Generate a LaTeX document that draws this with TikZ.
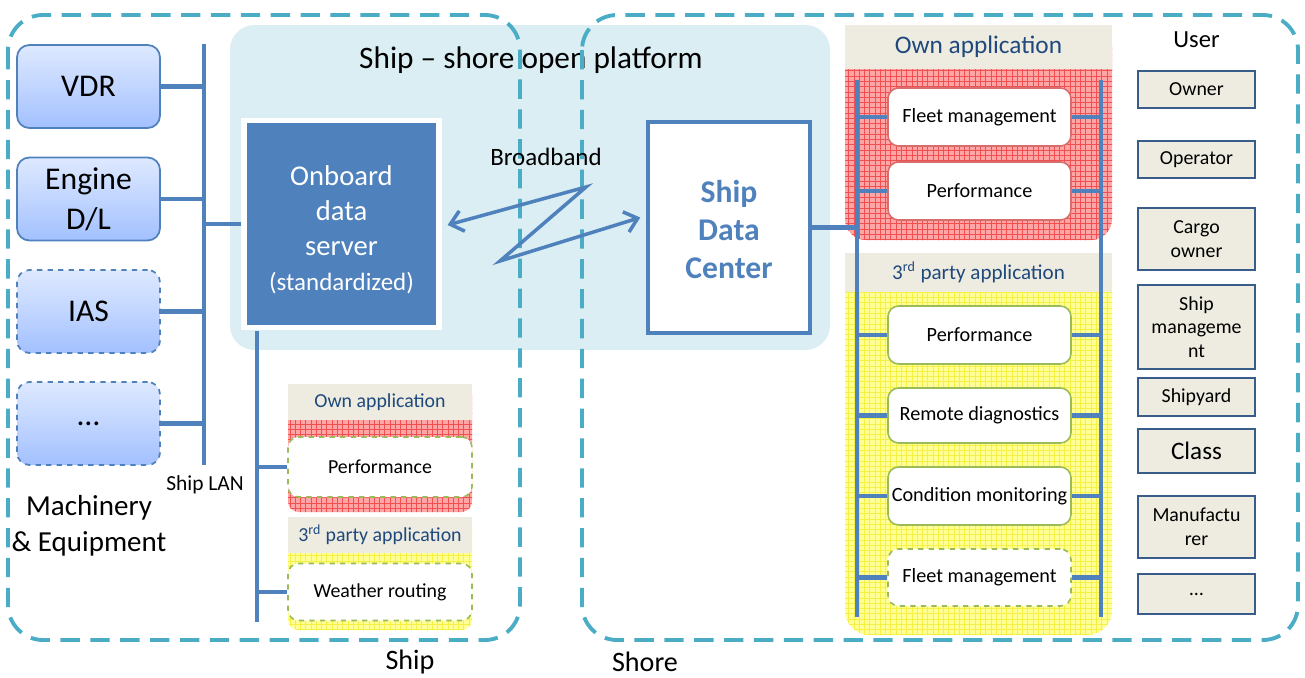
\documentclass[tikz,border=0pt]{standalone}
\usepackage{fontspec}
\setmainfont{Carlito}
\usetikzlibrary{patterns,calc,arrows.meta}
\definecolor{busblue}{RGB}{79,129,189}
\definecolor{zoneteal}{RGB}{75,172,198}
\definecolor{platblue}{RGB}{218,238,243}
\definecolor{headbeige}{RGB}{238,236,225}
\definecolor{navy}{RGB}{31,73,125}
\definecolor{appgreen}{RGB}{155,187,89}
\definecolor{appred}{RGB}{214,110,108}
\definecolor{pinkfill}{RGB}{255,165,165}
\definecolor{redgrid}{RGB}{240,80,80}
\definecolor{yelfill}{RGB}{255,255,150}
\definecolor{yelgrid}{RGB}{245,240,70}
\definecolor{boxtop}{RGB}{222,233,255}
\definecolor{boxbot}{RGB}{163,193,255}
\definecolor{userline}{RGB}{56,93,138}
\newcommand{\fsz}[2]{\fontsize{#1}{#2}\selectfont}
\begin{document}
\begin{tikzpicture}[x=0.02cm,y=-0.02cm]
\tikzstyle{zone}=[draw=zoneteal,line width=2.2pt,dash pattern=on 11pt off 6pt,rounded corners=20pt]
\tikzstyle{equip}=[draw=busblue,line width=1pt,rounded corners=7pt,top color=boxtop,bottom color=boxbot,minimum width=2.86cm,minimum height=1.66cm,align=center,font=\fsz{18}{22.7}]
\tikzstyle{bus}=[busblue,line width=2.3pt]
\tikzstyle{head}=[fill=headbeige,text=navy,inner sep=0pt]
\tikzstyle{app}=[draw=appgreen,line width=0.9pt,fill=white,rounded corners=6pt,inner sep=1pt,align=center]
\tikzstyle{redapp}=[app,draw=appred]
\tikzstyle{user}=[draw=userline,line width=1.3pt,fill=headbeige,minimum width=2.34cm,inner sep=1pt,align=center,font=\fsz{11.3}{13.5}]
\useasboundingbox (0,0) rectangle (1305,677);
\fill[platblue,rounded corners=14pt] (230,25) rectangle (830,350);
\node[font=\fsz{17.8}{20}] (plat) at (531,60) {Ship – shore open platform};
\draw[zone] (8,15) rectangle (520,640);
\draw[zone] (582,15) rectangle (1298,640);
\node[font=\fsz{16}{18}] (shiplbl) at (410,662) {Ship};
\node[font=\fsz{16}{18}] (shorelbl) at (645,662) {Shore};
\node[equip] (vdr) at (88.5,86.5) {VDR};
\node[equip] (engine) at (88.5,199) {Engine\\D/L};
\node[equip,dashed] (ias) at (88.5,311.5) {IAS};
\node[equip,dashed] (more) at (88.5,423.5) {…};
\coordinate (lantop) at (204,44);
\coordinate (lanbot) at (204,465);
\draw[bus] (lantop) -- (lanbot);
\foreach \n in {vdr,engine,ias,more} \draw[bus] (\n.east) -- (\n.east -| lantop);
\node[font=\fsz{12.2}{14}] (lanlbl) at (205,485) {Ship LAN};
\node[font=\fsz{16.5}{20.4},align=center] (mach) at (89,526) {Machinery\\\& Equipment};
\node[draw=white,line width=3pt,fill=busblue,text=white,minimum width=3.9cm,minimum height=4.15cm,align=center,font=\fsz{16.3}{19.8}] (server) at (341.5,224) {\rule{0pt}{18pt}Onboard\\data\\server\\{\fsz{14.2}{18}(standardized)}};
\draw[bus] (server.west) -- (server.west -| lantop);
\coordinate (obtop) at (257,331);
\coordinate (obbot) at (257,622);
\draw[bus] (obtop) -- (obbot);
\fill[pinkfill,rounded corners=6pt] (288,384) rectangle (472,512);
\fill[pattern=grid,pattern color=redgrid,rounded corners=6pt] (288,384) rectangle (472,512);
\node[head,minimum width=3.68cm,minimum height=0.72cm,font=\fsz{11.3}{13}] (ownsmall) at (380,402) {Own application};
\node[app,dashed,minimum width=3.68cm,minimum height=1.2cm,font=\fsz{11.3}{13}] (perfs) at (380,467) {Performance};
\fill[yelfill,rounded corners=6pt] (288,517) rectangle (472,630);
\fill[pattern=grid,pattern color=yelgrid,rounded corners=6pt] (288,517) rectangle (472,630);
\node[head,minimum width=3.68cm,minimum height=0.72cm,font=\fsz{11.3}{13}] (thirdsmall) at (380,535) {3\textsuperscript{rd} party application};
\node[app,dashed,minimum width=3.68cm,minimum height=1.14cm,font=\fsz{11.3}{13}] (weather) at (380,592) {Weather routing};
\draw[bus] (perfs.west -| obtop) -- (perfs.west);
\draw[bus] (weather.west -| obtop) -- (weather.west);
\node[draw=busblue,line width=2pt,fill=white,minimum width=3.24cm,minimum height=4.22cm,text=busblue,align=center,font=\bfseries\fsz{18}{21.5}] (sdc) at (729,227.5) {\rule{0pt}{15pt}Ship\\Data\\Center};
\node[font=\fsz{14.2}{16}] (bband) at (546,157) {Broadband};
\coordinate (zz1) at (586,187);
\coordinate (zz2) at (500,261);
\draw[bus,line width=2pt,{Straight Barb[length=7pt,width=12pt]}-{Straight Barb[length=7pt,width=12pt]}] ($(server.east)+(6,1)$) -- (zz1) -- (zz2) -- ($(sdc.west)+(-6,-10)$);
\fill[pinkfill,rounded corners=12pt] (845,25) rectangle (1112,240);
\fill[pattern=grid,pattern color=redgrid,rounded corners=12pt] (845,25) rectangle (1112,240);
\node[head,minimum width=5.34cm,minimum height=0.88cm,font=\fsz{14.4}{16}] (ownbig) at (978.5,47) {Own application};
\fill[yelfill,rounded corners=14pt] (845,253) rectangle (1112,635);
\fill[pattern=grid,pattern color=yelgrid,rounded corners=14pt] (845,253) rectangle (1112,635);
\node[head,minimum width=5.34cm,minimum height=0.78cm,font=\fsz{12}{14}] (thirdbig) at (978.5,272.5) {3\textsuperscript{rd} party application};
\coordinate (rbusl) at (857,80);
\coordinate (rbusr) at (1101,80);
\draw[bus] (rbusl) -- (857,617);
\draw[bus] (rbusr) -- (1101,617);
\draw[bus] (sdc.east) -- (sdc.east -| rbusl);
\node[redapp,minimum width=3.66cm,minimum height=1.16cm,font=\fsz{11.5}{13}] (fleet) at (979.5,117) {Fleet management};
\node[redapp,minimum width=3.66cm,minimum height=1.16cm,font=\fsz{11.5}{13}] (perf) at (979.5,191) {Performance};
\node[app,minimum width=3.66cm,minimum height=1.16cm,font=\fsz{11.5}{13}] (perf3) at (979.5,335) {Performance};
\node[app,minimum width=3.66cm,minimum height=1.1cm,font=\fsz{11.5}{13}] (remote) at (979.5,415.5) {Remote diagnostics};
\node[app,minimum width=3.66cm,minimum height=1.16cm,font=\fsz{11.5}{13}] (cond) at (979.5,496) {Condition monitoring};
\node[app,dashed,minimum width=3.66cm,minimum height=1.14cm,font=\fsz{11.5}{13}] (fleet3) at (979.5,577.5) {Fleet management};
\foreach \n in {fleet,perf,perf3,remote,cond,fleet3} {
  \draw[bus] (\n.west -| rbusl) -- (\n.west);
  \draw[bus] (\n.east) -- (\n.east -| rbusr);
}
\node[font=\fsz{14}{16}] (userhd) at (1196.5,40) {User};
\node[user,minimum height=0.74cm] (owner) at (1196.5,89.5) {Owner};
\node[user,minimum height=0.74cm] (operator) at (1196.5,159.5) {Operator};
\node[user,minimum height=1.24cm] (cargo) at (1196.5,239) {Cargo\\owner};
\node[user,minimum height=1.68cm] (shipman) at (1196.5,327) {Ship\\manageme\\nt};
\node[user,minimum height=0.76cm] (shipyard) at (1196.5,397) {Shipyard};
\node[user,minimum height=0.88cm,font=\fsz{14.3}{16}] (class) at (1196.5,451) {Class};
\node[user,minimum height=1.24cm] (manuf) at (1196.5,527) {Manufactu\\rer};
\node[user,minimum height=0.8cm] (others) at (1196.5,594) {…};
\end{tikzpicture}
\end{document}
